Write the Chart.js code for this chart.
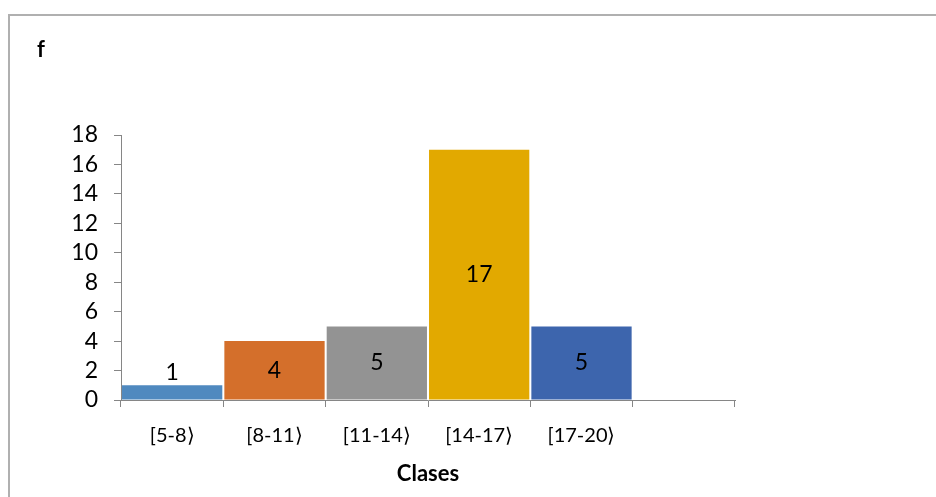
<!DOCTYPE html>
<html>
<head>
<meta charset="utf-8">
<script src="https://cdn.jsdelivr.net/npm/chart.js@4.4.1/dist/chart.umd.min.js"></script>
<style>
  html, body { margin: 0; padding: 0; background: #fff; }
  #wrap { position: relative; width: 936px; height: 497px; overflow: hidden; }
  #frame { position: absolute; left: 8px; top: 14px; width: 1000px; height: 600px;
           border-top: 2px solid #b0b0b0; border-left: 2px solid #b0b0b0; box-sizing: border-box; }
  canvas { position: absolute; left: 0; top: 0; }
</style>
</head>
<body>
<div id="wrap">
  <div id="frame"></div>
  <canvas id="chart" width="936" height="497"></canvas>
</div>
<script>
// Frequency table: class intervals and their counts
const classes = ['[5-8\u27E9', '[8-11\u27E9', '[11-14\u27E9', '[14-17\u27E9', '[17-20\u27E9', ''];
const frequencies = [1, 4, 5, 17, 5, null];
const barColors = ['#4f89bf', '#d46f2b', '#939393', '#e2a900', '#3d65ad', '#ffffff'];
const yTicks = [0, 2, 4, 6, 8, 10, 12, 14, 16, 18];

const FONT = 'Lato, "Open Sans", sans-serif';
const AXIS_GRAY = '#868686';

// Value labels: centred in the bar, or just above it when the bar is too short
const valueLabels = {
  id: 'valueLabels',
  afterDatasetsDraw(chart) {
    const ctx = chart.ctx;
    const meta = chart.getDatasetMeta(0);
    ctx.save();
    ctx.font = '23px ' + FONT;
    ctx.fillStyle = '#000';
    ctx.textAlign = 'center';
    ctx.textBaseline = 'middle';
    meta.data.forEach((bar, i) => {
      const v = frequencies[i];
      if (v === null || v === undefined) return;
      const h = bar.base - bar.y;
      const y = h > 30 ? (bar.y + bar.base) / 2 : bar.y - 13;
      ctx.fillText(String(v), bar.x, y);
    });
    ctx.restore();
  }
};

// Vertical axis name written horizontally in the upper-left corner
const cornerTitle = {
  id: 'cornerTitle',
  afterDraw(chart) {
    const ctx = chart.ctx;
    ctx.save();
    ctx.font = 'bold 22px ' + FONT;
    ctx.fillStyle = '#000';
    ctx.textAlign = 'center';
    ctx.textBaseline = 'middle';
    ctx.fillText('f', 41, 50);
    ctx.restore();
  }
};

new Chart(document.getElementById('chart'), {
  type: 'bar',
  data: {
    labels: classes,
    datasets: [{
      data: frequencies,
      backgroundColor: barColors,
      borderWidth: 0,
      barPercentage: 1,
      categoryPercentage: 0.98
    }]
  },
  options: {
    responsive: false,
    animation: false,
    events: [],
    layout: { padding: { top: 135, right: 201, bottom: 0, left: 0 } },
    plugins: { legend: { display: false }, tooltip: { enabled: false }, title: { display: false } },
    scales: {
      x: {
        offset: true,
        grid: { display: true, drawOnChartArea: false, drawTicks: true, tickLength: 7, color: AXIS_GRAY, offset: true },
        border: { display: true, color: AXIS_GRAY, width: 1 },
        ticks: { color: '#000', font: { family: FONT, size: 20 }, padding: 17, maxRotation: 0, autoSkip: false },
        title: { display: true, text: 'Clases', color: '#000', font: { family: FONT, size: 22, weight: 'bold' }, padding: { top: 0, bottom: 10 } },
        afterFit(scale) { scale.height = 97; }
      },
      y: {
        min: 0,
        max: 18,
        afterBuildTicks(scale) { scale.ticks = yTicks.map(v => ({ value: v })); },
        grid: { display: true, drawOnChartArea: false, drawTicks: true, tickLength: 7, color: AXIS_GRAY },
        border: { display: true, color: AXIS_GRAY, width: 1 },
        ticks: { color: '#000', font: { family: FONT, size: 23 }, padding: 16, autoSkip: false },
        afterFit(scale) { scale.width = 121; }
      }
    }
  },
  plugins: [valueLabels, cornerTitle]
});
</script>
</body>
</html>
